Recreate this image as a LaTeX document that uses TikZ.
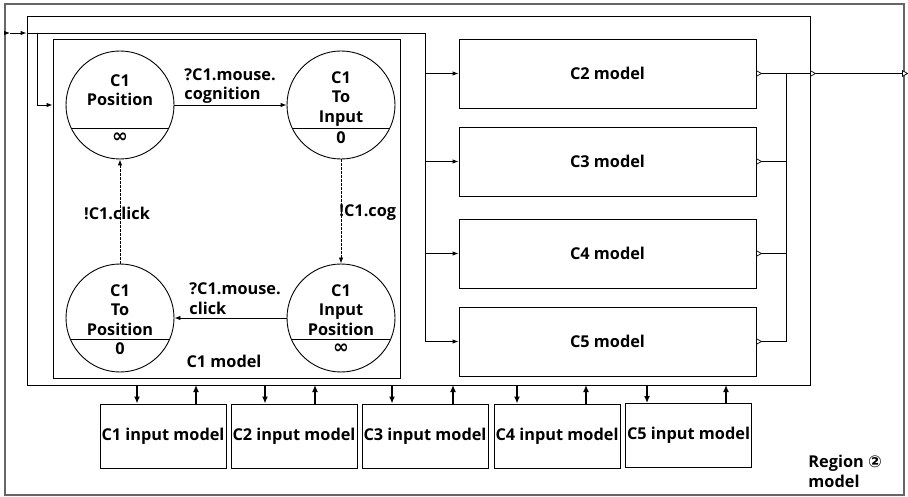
\documentclass[tikz,border=0pt]{standalone}
\usepackage{fontspec}
\setmainfont{Open Sans}
\newfontfamily\symfont{DejaVu Sans}
\usetikzlibrary{arrows.meta}
\newcommand\myinf{{\symfont\bfseries\fontsize{19}{19}\selectfont ∞}}
\begin{document}
\begin{tikzpicture}[x=1pt,y=-1pt,line width=0.9pt,
  every node/.style={font=\fontsize{16.3}{19.5}\selectfont\bfseries,inner sep=0pt,align=center},
  st/.style={draw,circle,minimum size=108pt},
  arr/.style={-{Latex[length=6pt,width=4.5pt]}},
  darr/.style={-{Latex[length=6pt,width=4.5pt]},dash pattern=on 2.4pt off 1.6pt,line width=0.9pt},
  barr/.style={-{Latex[length=7pt,width=6pt]},line width=1.6pt},
  port/.pic={\draw[fill=white,line width=0.7pt] (0,-2.8) -- (5,0) -- (0,2.8) -- cycle;}]
\useasboundingbox (0,0) rectangle (908,497);
% frames
\node[draw=black!60,line width=1.1pt,minimum width=899pt,minimum height=491pt] (outer) at (454.5,249.5) {};
\node[draw,minimum width=783pt,minimum height=369pt] (reg) at (418.5,200.5) {};
\node[draw,minimum width=347pt,minimum height=339pt] (c1m) at (226.5,208.5) {};
\node at (224,361) {C1 model};
\node[anchor=west,align=left] at (808,471.5) {Region {\symfont\bfseries ②}\\model};
% states
\node[st] (pos) at (120,105) {};
\node[st] (toin) at (341,105) {};
\node[st] (topos) at (120,318) {};
\node[st] (inpos) at (341,318) {};
\draw (120-48.9,128) -- (120+48.9,128);
\draw (341-48.9,128) -- (341+48.9,128);
\draw (120-49.7,339) -- (120+49.7,339);
\draw (341-49.7,339) -- (341+49.7,339);
\node at (120,90) {C1\\Position};
\node at (120,138) {\myinf};
\node at (341,99) {C1\\To\\Input};
\node at (341,138) {0};
\node at (120,310) {C1\\To\\Position};
\node at (120,349) {0};
\node at (341,310) {C1\\Input\\Position};
\node at (341,349) {\myinf};
\draw[arr] (pos) -- (toin);
\draw[arr] (inpos) -- (topos);
\draw[darr] (toin) -- (inpos);
\draw[darr] (topos) -- (pos);
\node[anchor=south west,align=left] at (184,104) {?C1.mouse.\\cognition};
\node[anchor=south west,align=left] at (189,315) {?C1.mouse.\\click};
\node at (117,213) {!C1.click};
\node[anchor=west] at (339,213) {!C1.cog};
% component models
\node[draw,minimum width=297pt,minimum height=69pt] (c2) at (607.5,73.5) {C2 model};
\node[draw,minimum width=297pt,minimum height=69pt] (c3) at (607.5,161.5) {C3 model};
\node[draw,minimum width=297pt,minimum height=69pt] (c4) at (607.5,253.5) {C4 model};
\node[draw,minimum width=297pt,minimum height=69pt] (c5) at (607.5,341.5) {C5 model};
% input distribution
\coordinate (inL) at (5,33);
\coordinate (inR) at (425,33);
\coordinate (br) at (37,33);
\draw[arr] (inL) -- ++(5,0);
\draw[arr] (10,33) -- (reg.west |- inL);
\draw (reg.west |- inL) -- (inR) -- (inR |- c5.west);
\draw[arr] (br) -- (br |- pos) -- (c1m.west |- pos);
\draw[arr] (inR |- c2.west) -- (c2.west);
\draw[arr] (inR |- c3.west) -- (c3.west);
\draw[arr] (inR |- c4.west) -- (c4.west);
\draw[arr] (inR |- c5.west) -- (c5.west);
% outputs
\coordinate (bus) at (786,73.5);
\draw (c2.east) -- (outer.east |- c2.east);
\draw (c3.east) -- (bus |- c3.east);
\draw (c4.east) -- (bus |- c4.east);
\draw (c5.east) -- (bus |- c5.east) -- (bus);
\path (c2.east) pic{port};
\path (c3.east) pic{port};
\path (c4.east) pic{port};
\path (c5.east) pic{port};
\path (reg.east |- c2.east) pic{port};
\path ([xshift=-2pt]outer.east |- c2.east) pic{port};
% input models
\node[draw,minimum width=126pt,minimum height=64pt] (i1) at (163,436) {C1 input model};
\node[draw,minimum width=126pt,minimum height=64pt] (i2) at (294,436) {C2 input model};
\node[draw,minimum width=126pt,minimum height=64pt] (i3) at (425,436) {C3 input model};
\node[draw,minimum width=126pt,minimum height=64pt] (i4) at (557,436) {C4 input model};
\node[draw,minimum width=126pt,minimum height=64pt] (i5) at (688.5,435.5) {C5 input model};
\foreach \n/\d/\u in {i1/137/196,i2/265/315,i3/392/453,i4/517/586,i5/647/726}{
  \draw[barr] (\d,385) -- (\d,0 |- \n.north);
  \draw[barr] (\u,0 |- \n.north) -- (\u,385);
}
\end{tikzpicture}
\end{document}
